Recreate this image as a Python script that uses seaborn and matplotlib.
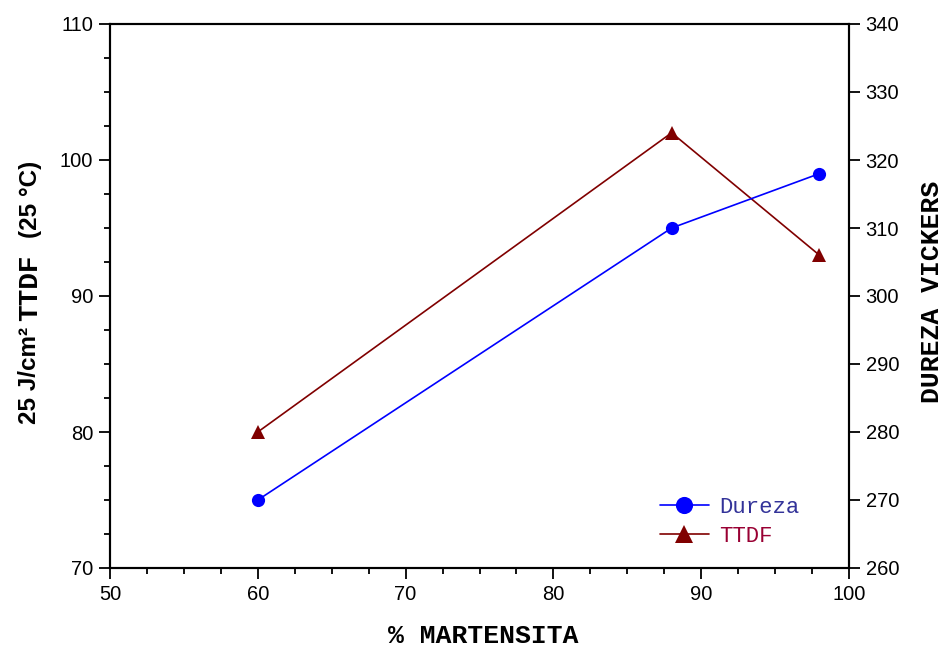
import matplotlib
matplotlib.use("Agg")
import matplotlib.pyplot as plt
from matplotlib.ticker import MultipleLocator
import seaborn as sns
import pandas as pd

martensita = [60, 88, 98]
dureza = [270, 310, 318]
ttdf = [80, 102, 93]

x_ticks = [50, 60, 70, 80, 90, 100]
left_ticks = [70, 80, 90, 100, 110]
right_ticks = [260, 270, 280, 290, 300, 310, 320, 330, 340]

df = pd.DataFrame({"martensita": martensita, "dureza": dureza, "ttdf": ttdf})

sns.set_style("white")
plt.rcParams['font.family'] = ['Liberation Sans', 'DejaVu Sans']
plt.rcParams['text.color'] = 'black'
plt.rcParams['xtick.color'] = 'black'
plt.rcParams['ytick.color'] = 'black'
plt.rcParams['xtick.labelcolor'] = 'black'
plt.rcParams['ytick.labelcolor'] = 'black'

W, H = 946, 648
fig = plt.figure(figsize=(W / 100, H / 100), dpi=100)
L, R, T, B = 110, 849, 24, 568
ax = fig.add_axes([L / W, 1 - B / H, (R - L) / W, (B - T) / H])
ax2 = ax.twinx()

sns.lineplot(data=df, x="martensita", y="ttdf", ax=ax, color="#800000",
             marker="^", markersize=10, markeredgewidth=0, linewidth=1.2,
             label="TTDF", legend=False)
sns.lineplot(data=df, x="martensita", y="dureza", ax=ax2, color="#0000FF",
             marker="o", markersize=9.5, markeredgewidth=0, linewidth=1.2,
             label="Dureza", legend=False)

ax.set_xlim(50, 100)
ax.set_ylim(70, 110)
ax2.set_ylim(260, 340)
ax.set_xticks(x_ticks)
ax.set_yticks(left_ticks)
ax2.set_yticks(right_ticks)
ax.xaxis.set_minor_locator(MultipleLocator(2.5))
ax.yaxis.set_minor_locator(MultipleLocator(2.5))
ax.set_xlabel("")
ax.set_ylabel("")
ax2.set_ylabel("")

for a in (ax, ax2):
    for s in a.spines.values():
        s.set_visible(True)
        s.set_color("black")
        s.set_linewidth(1.5)

ax.tick_params(axis="both", which="major", direction="out", length=8, width=1.3,
               labelsize=14.5, color="black", labelcolor="black", pad=4)
ax.tick_params(axis="both", which="minor", direction="out", length=4, width=1.3,
               color="black")
ax.tick_params(axis="x", which="both", bottom=True, top=False)
ax.tick_params(axis="y", which="both", left=True, right=False)
ax2.tick_params(axis="y", which="major", direction="out", length=8, width=1.3,
                labelsize=14.5, color="black", labelcolor="black", right=True, pad=4)
ax2.tick_params(axis="y", which="minor", right=False)

# Axis labels
mono = ['Liberation Mono', 'DejaVu Sans Mono']
fig.text(483 / W, 1 - 636 / H, "% MARTENSITA", family=mono, fontweight="bold",
         fontsize=19, ha="center", va="center", color="black")
fig.text(932 / W, 1 - 292 / H, "DUREZA VICKERS", family=mono, fontweight="bold",
         fontsize=19, ha="center", va="center", rotation=90, color="black")
lx = 30 / W
fig.text(lx, 1 - 424 / H, "25 J/cm²", fontweight="bold", fontsize=17.5,
         ha="center", va="bottom", rotation=90, color="black")
fig.text(lx, 1 - 321 / H, "TTDF", family=mono, fontweight="bold", fontsize=20,
         ha="center", va="bottom", rotation=90, color="black")
fig.text(lx, 1 - 238 / H, "(25 °C)", fontweight="bold", fontsize=17.5,
         ha="center", va="bottom", rotation=90, color="black")

# Legend
h1, l1 = ax2.get_legend_handles_labels()
h2, l2 = ax.get_legend_handles_labels()
leg = ax2.legend(h1 + h2, l1 + l2, loc="upper left",
                 bbox_to_anchor=(660 / W, 1 - 497 / H), bbox_transform=fig.transFigure,
                 frameon=False, borderpad=0, borderaxespad=0, handlelength=2.2,
                 handletextpad=0.45, labelspacing=0.35, markerscale=1.3,
                 prop={"family": mono, "size": 16})
for txt, col in zip(leg.get_texts(), ["#333399", "#990033"]):
    txt.set_color(col)

fig.savefig("out.png", dpi=100)
